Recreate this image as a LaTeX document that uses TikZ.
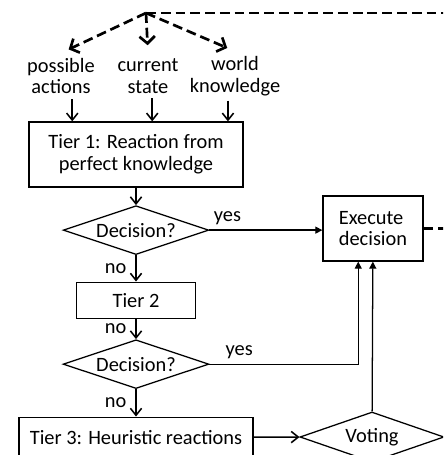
\documentclass[tikz,border=0pt]{standalone}
\usepackage{fontspec}
\setmainfont{Carlito}
\usepackage{tikz}
\usetikzlibrary{shapes.geometric,arrows.meta}

\tikzset{
  block/.style={draw, line width=0.9pt, inner sep=2pt},
  decision/.style={diamond, draw, aspect=3, line width=0.9pt, inner sep=0pt, minimum width=3.64cm, minimum height=1.22cm},
  feed/.style={line width=1.9pt, dash pattern=on 7pt off 3.5pt, shorten >=6pt, -{Straight Barb[length=5pt,width=11pt]}},
  arr/.style={line width=1.1pt, -{Straight Barb[length=5pt,width=8pt]}},
  tri/.style={line width=0.9pt, -{Triangle[length=5pt,width=5pt]}},
  nolabel/.style={left, xshift=-3pt}
}

\begin{document}
\begin{tikzpicture}[x=0.025cm, y=0.025cm, align=center, font=\fontsize{14.5}{15.5}\selectfont,
level 1/.style={level distance=1.89cm}, level 2/.style={level distance=1.75cm},
level 3/.style={level distance=1.6cm}, level 4/.style={level distance=1.825cm},
edge from parent/.style={draw, arr}]
\clip (0,0) rectangle (443,-455);

% inputs
\coordinate (apex) at (146,-13);
\coordinate (topout) at (470,-13);
\node (actions) at (61,-76) {possible\\actions};
\node (state) at (148,-76) {current\\state};
\node (world) at (235,-76) {world\\knowledge};

% tier chain
\node (tier1) [block, minimum width=5.35cm, minimum height=1.625cm] at (136,-154.5) {Tier 1: Reaction from\\perfect knowledge}
child { node (dec1) [decision] {Decision?}
	child { node (tier2) [block, minimum width=2.975cm, minimum height=0.9cm] {Tier 2}
		child { node (dec2) [decision] {Decision?}
			child { node (tier3) [block, minimum width=5.85cm, minimum height=1cm] {Tier 3: Heuristic reactions}
				edge from parent node[nolabel] {no}}
			edge from parent node[nolabel] {no}}
		edge from parent node[nolabel] {no}}
};

\node (exec) [block, align=left, minimum width=2.5cm, minimum height=1.625cm] at (373,-228.5) {Execute\\decision};
\node (voting) [decision, minimum width=3.6cm, minimum height=1.25cm] at (372,-437) {Voting};
\coordinate (execout) at (470,-228.5);

\draw[feed] (apex) -- (actions.north);
\draw[feed] (apex) -- (state.north);
\draw[feed] (apex) -- (world.north);
\draw[feed, -, shorten >=0pt] (apex) -- (topout);
\draw[feed, -, shorten >=0pt] (exec) -- (execout);

\draw[arr] ([xshift=8pt]actions.south) -- ([xshift=8pt]actions.south |- tier1.north);
\draw[arr] ([xshift=3pt]state.south) -- ([xshift=3pt]state.south |- tier1.north);
\draw[arr] ([xshift=-5pt]world.south) -- ([xshift=-5pt]world.south |- tier1.north);

\draw[tri] (dec1.east) -- (dec1.east -| exec.west) node[pos=0.16, above] {yes};
\draw[tri] (dec2.east) -| ([xshift=-10.5pt]exec.south) node[pos=0.1, above] {yes};
\draw[arr] (tier3) -- (voting);
\draw[tri] (voting) -- (exec);

\end{tikzpicture}
\end{document}
